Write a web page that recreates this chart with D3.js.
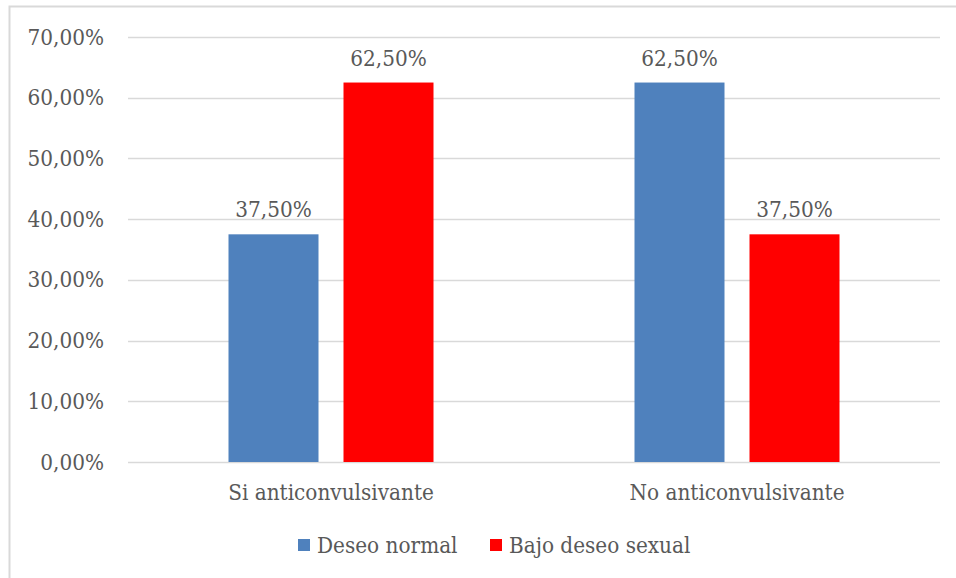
<!DOCTYPE html>
<html>
<head>
<meta charset="utf-8">
<script src="https://cdn.jsdelivr.net/npm/d3@7/dist/d3.min.js"></script>
<style>
  html, body { margin: 0; padding: 0; background: #fff; }
  svg text { font-family: "DejaVu Serif Condensed", "DejaVu Serif", serif; font-stretch: condensed; fill: #595959; }
</style>
</head>
<body>
<svg id="chart" width="956" height="578"></svg>
<script>
// Categories, series and values
const categories = ["Si anticonvulsivante", "No anticonvulsivante"];
const seriesNames = ["Deseo normal", "Bajo deseo sexual"];
const deseoNormal = [37.5, 62.5];
const bajoDeseo = [62.5, 37.5];
const yTicks = [0, 10, 20, 30, 40, 50, 60, 70];
const colors = ["#4f81bd", "#ff0000"];

const values = [deseoNormal, bajoDeseo];
const fmt = v => v.toFixed(2).replace(".", ",") + "%";
const FS = 22.3;
const FONT = "'DejaVu Serif Condensed', 'DejaVu Serif', serif";

const svg = d3.select("#chart");

// outer frame
svg.append("rect")
  .attr("x", 9.5).attr("y", 6.5)
  .attr("width", 960).attr("height", 590)
  .attr("fill", "none").attr("stroke", "#d9d9d9").attr("stroke-width", 2);

const plot = { left: 128, right: 940, top: 37, bottom: 462 };

const y = d3.scaleLinear().domain([0, 70]).range([plot.bottom, plot.top]);
const x0 = d3.scaleBand().domain(categories).range([plot.left, plot.right]).padding(0);
const groupW = x0.bandwidth() * 205 / 406;
const x1 = d3.scaleBand().domain(seriesNames)
  .range([(x0.bandwidth() - groupW) / 2, (x0.bandwidth() + groupW) / 2])
  .paddingInner(25 / 115).paddingOuter(0);

// gridlines
svg.append("g").selectAll("line").data(yTicks).join("line")
  .attr("x1", plot.left).attr("x2", plot.right)
  .attr("y1", d => Math.round(y(d)) + 0.5).attr("y2", d => Math.round(y(d)) + 0.5)
  .attr("stroke", "#d9d9d9").attr("stroke-width", 1.5);

// y axis labels
const yAxis = d3.axisLeft(y).tickValues(yTicks).tickFormat(fmt).tickSize(0).tickPadding(24);
const gy = svg.append("g").attr("transform", `translate(${plot.left},0)`).call(yAxis);
gy.select(".domain").remove();
gy.selectAll("text").attr("font-size", FS).attr("fill", "#595959").style("font-family", FONT);

// bars
const groups = svg.append("g").selectAll("g").data(categories).join("g")
  .attr("transform", d => `translate(${x0(d)},0)`);

groups.selectAll("rect")
  .data((c, ci) => seriesNames.map((s, si) => ({ s, si, v: values[si][ci] })))
  .join("rect")
  .attr("x", d => x1(d.s))
  .attr("width", x1.bandwidth())
  .attr("y", d => y(d.v))
  .attr("height", d => y(0) - y(d.v))
  .attr("fill", d => colors[d.si]);

// value labels
groups.selectAll("text.val")
  .data((c, ci) => seriesNames.map((s, si) => ({ s, si, v: values[si][ci] })))
  .join("text").attr("class", "val")
  .attr("x", d => x1(d.s) + x1.bandwidth() / 2)
  .attr("y", d => y(d.v) - 17)
  .attr("text-anchor", "middle")
  .attr("font-size", FS)
  .text(d => fmt(d.v));

// category labels
const xAxis = d3.axisBottom(x0).tickSize(0);
const gx = svg.append("g").attr("transform", `translate(0,${plot.bottom})`).call(xAxis);
gx.select(".domain").remove();
gx.selectAll("text").attr("y", 38).attr("dy", null)
  .attr("font-size", FS).attr("fill", "#595959").style("font-family", FONT);

// legend
const legendX = [298, 490];
const legend = svg.append("g").selectAll("g").data(seriesNames).join("g")
  .attr("transform", (d, i) => `translate(${legendX[i]},539)`);
legend.append("rect").attr("width", 12).attr("height", 12).attr("fill", (d, i) => colors[i]);
legend.append("text").attr("x", 19).attr("y", 14).attr("font-size", FS).text(d => d);
</script>
</body>
</html>
